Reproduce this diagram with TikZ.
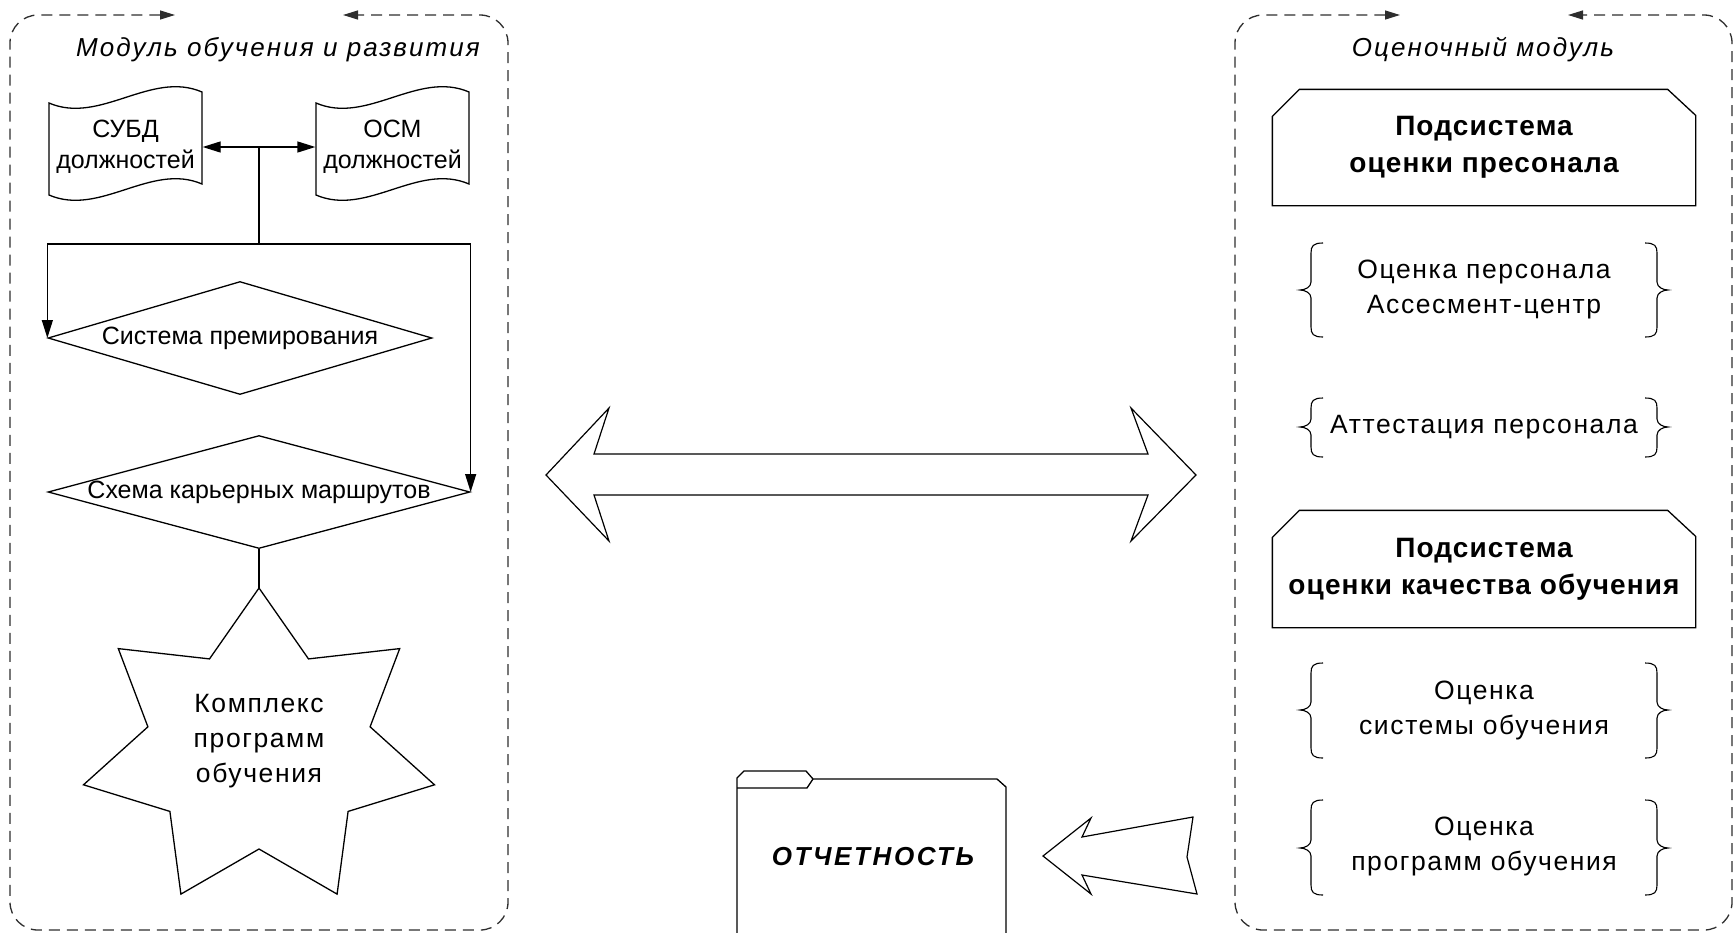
\documentclass[tikz,border=0pt]{standalone}
\usepackage{fontspec}
\setmainfont{Liberation Sans}
\newfontfamily\wideface[LetterSpace=6]{Liberation Sans}
\newfontfamily\titleface[LetterSpace=8]{Liberation Sans}
\newfontfamily\boldface[LetterSpace=4]{Liberation Sans}
\newfontfamily\reportface[LetterSpace=10]{Liberation Sans}
\usetikzlibrary{arrows.meta,shapes.geometric,calc}

% wavy "punched tape" outline, left edge at x = #1
\newcommand\tapeoutline[1]{%
  \draw (#1,103) .. controls ({#1+51},125) and ({#1+102},70) .. ({#1+153},92)
        -- ({#1+153},184) .. controls ({#1+102},162) and ({#1+51},217) .. (#1,195) -- cycle;}

% pair of curly braces: top #1, middle #2, bottom #3
\newcommand\bracepair[3]{%
  \draw[brc] (1323,#1) .. controls (1313,#1) and (1311,{#1+3}) .. (1311,{#1+10})
      -- (1311,{#2-8}) .. controls (1311,{#2-3}) and (1305,#2) .. (1300,#2)
      .. controls (1305,#2) and (1311,{#2+3}) .. (1311,{#2+8})
      -- (1311,{#3-10}) .. controls (1311,{#3-3}) and (1313,#3) .. (1323,#3);
  \draw[brc] (1645,#1) .. controls (1655,#1) and (1657,{#1+3}) .. (1657,{#1+10})
      -- (1657,{#2-8}) .. controls (1657,{#2-3}) and (1663,#2) .. (1668,#2)
      .. controls (1663,#2) and (1657,{#2+3}) .. (1657,{#2+8})
      -- (1657,{#3-10}) .. controls (1657,{#3-3}) and (1655,#3) .. (1645,#3);}

% rectangle with its two upper corners cut off, around node #1
\newcommand\chamferbox[1]{%
  \draw[line join=miter] (#1.south west) -- ($(#1.north west)+(0,27)$) -- ($(#1.north west)+(27,0)$)
    -- ($(#1.north east)+(-28,0)$) -- ($(#1.north east)+(0,26)$) -- (#1.south east) -- cycle;}

\begin{document}
\begin{tikzpicture}[x=1pt,y=-1pt,line width=1.3pt,
  every node/.style={inner sep=0pt},
  lbl/.style={font=\fontsize{25}{35}\selectfont, align=center},
  wlbl/.style={font=\wideface\fontsize{26.5}{35}\selectfont, align=center},
  tapelbl/.style={font=\fontsize{25}{31}\selectfont, align=center,
                  minimum width=153pt, minimum height=92pt},
  ttl/.style={font=\titleface\fontsize{26}{30}\selectfont\itshape},
  dia/.style={draw, diamond, minimum width=#1, minimum height=113pt},
  boxtxt/.style={rectangle, minimum width=422pt, minimum height=#1,
                 font=\boldface\fontsize{28}{37}\selectfont\bfseries, align=center},
  cont/.style={draw=black!82, line width=1.3pt, dash pattern=on 11pt off 7pt,
               rounded corners=28pt,
               arrows={Triangle[length=15pt,width=9pt]-Triangle[length=15pt,width=9pt]}},
  conn/.style={line width=1.3pt},
  tip/.style={-{Triangle[length=18pt,width=11pt]}},
  brc/.style={line width=1.1pt},
  blk/.style={draw, line width=1.2pt, fill=white, line join=miter}
]
\useasboundingbox (0,0) rectangle (1736,932);

% ---------- containers ----------
\draw[cont] (175,15) -- (10,15) -- (10,930) -- (508,930) -- (508,15) -- (343,15);
\draw[cont] (1400,15) -- (1235,15) -- (1235,930) -- (1732,930) -- (1732,15) -- (1568,15);

\node[ttl] (ttl1) at (278,50) {Модуль обучения и развития};
\node[ttl] (ttl2) at (1483,50) {Оценочный модуль};

% ---------- learning and development module ----------
\tapeoutline{49}
\tapeoutline{316}
\node[tapelbl] (subd) at (125.5,147) {СУБД\\должностей};
\node[tapelbl] (osm) at (392.5,147) {ОСМ\\должностей};

\node[dia=384pt] (d1) at (240,338) {};
\node[lbl] (d1t) at (d1) {Система премирования};
\node[dia=422pt] (d2) at (259,492) {};
\node[lbl] (d2t) at (d2) {Схема карьерных маршрутов};

\draw[conn, arrows={Triangle[length=18pt,width=11pt]-Triangle[length=18pt,width=11pt]}]
  (subd.east) -- (osm.west);
\coordinate (hub) at ($(subd.east)!0.5!(osm.west)$);
\coordinate (split) at (259,244);
\draw[conn] (hub) -- (split);
\draw[conn,tip] (split) -| (d1.west);
\draw[conn,tip] (split) -| (d2.east);

% seven-pointed star
\coordinate (startop) at (259,588);
\draw[line join=miter] (startop) -- (308.5,658.9) -- (399.7,648.6) -- (370.1,726.8)
  -- (434.5,784.8) -- (348.1,811.4) -- (337.1,894.1) -- (259,849)
  -- (180.9,894.1) -- (169.9,811.4) -- (83.5,784.8) -- (147.9,726.8)
  -- (118.3,648.6) -- (209.5,658.9) -- cycle;
\node[wlbl] (startext) at (259,741) {Комплекс\\программ\\обучения};
\draw[conn] (d2.south) -- (startop);

% ---------- assessment module ----------
\node[boxtxt=115pt] (sub1) at (1484,147.5) {Подсистема\\оценки пресонала};
\chamferbox{sub1}
\node[boxtxt=116pt] (sub2) at (1484,569) {Подсистема\\оценки качества обучения};
\chamferbox{sub2}

\node[wlbl] (ev1) at (1484,289) {Оценка персонала\\Ассесмент-центр};
\node[wlbl] (ev2) at (1484,427) {Аттестация персонала};
\node[wlbl] (ev3) at (1484,710) {Оценка\\системы обучения};
\node[wlbl] (ev4) at (1484,846) {Оценка\\программ обучения};
\bracepair{243}{290}{337}
\bracepair{398}{427}{457}
\bracepair{663}{710}{758}
\bracepair{800}{848}{895}

% ---------- exchange arrow between modules ----------
\draw[blk] (546,475) -- (609,408) -- (594,454) -- (1148,454) -- (1131,408)
  -- (1196,475) -- (1131,541) -- (1148,495) -- (594,495) -- (609,541) -- cycle;

% ---------- reporting ----------
\draw[line join=miter] (737,934) -- (737,778) -- (744,771) -- (806,771) -- (813,779)
  -- (997,779) -- (1006,787) -- (1006,934);
\draw (737,788) -- (807,788) -- (813,779);
\node[font=\reportface\fontsize{26}{30}\selectfont\bfseries\itshape] (rep) at (873,857) {ОТЧЕТНОСТЬ};

\draw[blk] (1043,856) -- (1091,818) -- (1082,837) -- (1193,817) -- (1187,857)
  -- (1197,894) -- (1082,875) -- (1091,894) -- cycle;
\end{tikzpicture}
\end{document}
